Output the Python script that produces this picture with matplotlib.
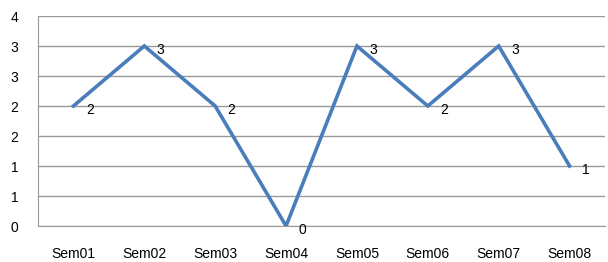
import matplotlib
matplotlib.use("Agg")
import matplotlib.pyplot as plt
import numpy as np

categories = ["Sem01", "Sem02", "Sem03", "Sem04", "Sem05", "Sem06", "Sem07", "Sem08"]
values = [2, 3, 2, 0, 3, 2, 3, 1]
y_ticks = [0, 0.5, 1, 1.5, 2, 2.5, 3, 3.5]
y_labels = ["0", "1", "1", "2", "2", "3", "3", "4"]

plt.rcParams['font.family'] = ['Liberation Sans', 'DejaVu Sans']

fig = plt.figure(figsize=(6.08, 2.62), dpi=100)
ax = fig.add_axes([38 / 608, 36 / 262, 567 / 608, 210 / 262])

x = np.arange(len(categories))
ax.plot(x, values, color="#4A7EBB", linewidth=2.6, solid_joinstyle="miter")

for xi, v in zip(x, values):
    ax.annotate(str(v), (xi, v), xytext=(9, -3), textcoords="offset points",
                ha="left", va="center", fontsize=10, color="black")

ax.set_xlim(-0.5, len(categories) - 0.5)
ax.set_ylim(0, 3.5)
ax.set_yticks(y_ticks)
ax.set_yticklabels(y_labels)
ax.set_xticks(x)
ax.set_xticklabels(categories)
ax.tick_params(axis="y", length=0, pad=14, labelsize=10)
ax.tick_params(axis="x", length=0, pad=15, labelsize=10)

ax.grid(axis="y", color="#999999", linewidth=1)
ax.set_axisbelow(True)
for side in ["top", "right"]:
    ax.spines[side].set_visible(False)
ax.spines["left"].set_color("#999999")
ax.spines["bottom"].set_color("#999999")

fig.savefig("out.png", dpi=100)
